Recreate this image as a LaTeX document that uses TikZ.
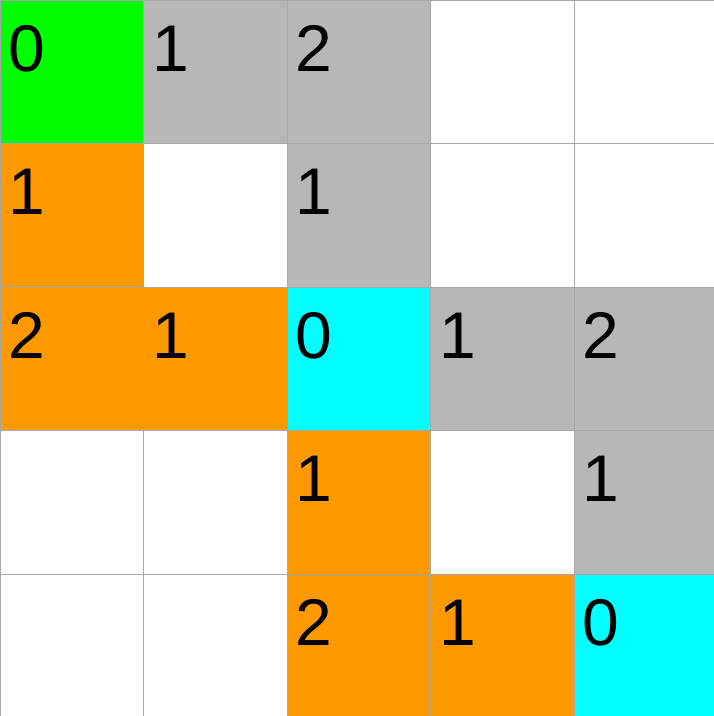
\documentclass[tikz,border=0pt]{standalone}
\usepackage{fontspec}
\setmainfont{Liberation Sans}
\usetikzlibrary{positioning}
\definecolor{cellgreen}{HTML}{00FF00}
\definecolor{cellgray}{HTML}{B7B7B7}
\definecolor{cellorange}{HTML}{FF9900}
\definecolor{cellcyan}{HTML}{00FFFF}
\definecolor{gridline}{HTML}{A8A8A8}
\tikzset{
  cellbox/.style={draw=gridline,line width=0.8pt,rectangle,anchor=north west,inner sep=0,outer sep=0,minimum width=143.5pt,minimum height=143.5pt},
  digit/.style={anchor=base west,inner sep=0,font=\fontsize{66pt}{66pt}\selectfont}
}
\begin{document}
\begin{tikzpicture}[x=1pt,y=-1pt]
\useasboundingbox (0,0) rectangle (714,716);
\foreach \col/\row/\shade in {0/0/cellgreen,1/0/cellgray,2/0/cellgray,3/0/white,4/0/white,
  0/1/cellorange,1/1/white,2/1/cellgray,3/1/white,4/1/white,
  0/2/cellorange,1/2/cellorange,2/2/cellcyan,3/2/cellgray,4/2/cellgray,
  0/3/white,1/3/white,2/3/cellorange,3/3/white,4/3/cellgray,
  0/4/white,1/4/white,2/4/cellorange,3/4/cellorange,4/4/cellcyan}
  \node[cellbox,fill=\shade] (c-\col-\row) at (\col*143.5,\row*143.5) {};
\foreach \col/\row/\num in {0/0/0,1/0/1,2/0/2,0/1/1,2/1/1,
  0/2/2,1/2/1,2/2/0,3/2/1,4/2/2,2/3/1,4/3/1,2/4/2,3/4/1,4/4/0}
  \node[digit] (d-\col-\row) at ([shift={(8.5pt,-71pt)}]c-\col-\row.north west) {\num};
\end{tikzpicture}
\end{document}
